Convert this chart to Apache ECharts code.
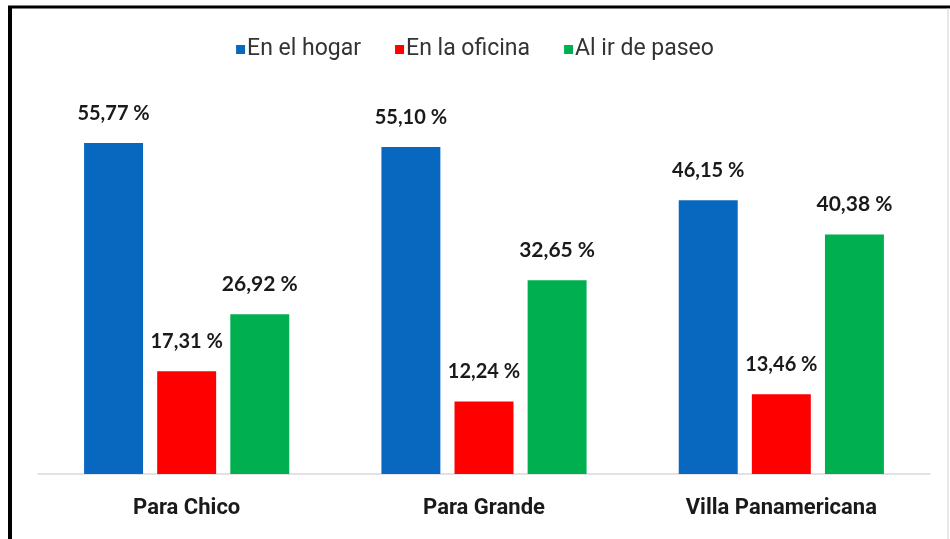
<!DOCTYPE html>
<html>
<head>
<meta charset="utf-8">
<script src="https://cdn.jsdelivr.net/npm/echarts@6/dist/echarts.min.js"></script>
<style>
  html, body { margin: 0; padding: 0; background: #fff; }
  #chart { width: 950px; height: 539px; }
</style>
</head>
<body>
<div id="chart"></div>
<script>
// lugares y porcentajes por ubicacion
var lugares = ['Para Chico', 'Para Grande', 'Villa Panamericana'];
var enElHogar = [55.77, 55.10, 46.15];
var enLaOficina = [17.31, 12.24, 13.46];
var alIrDePaseo = [26.92, 32.65, 40.38];

function fmt(p) {
    return p.value.toFixed(2).replace('.', ',') + ' %';
}

var myChart = echarts.init(document.getElementById('chart'));

var labelBase = {
    show: true,
    position: 'top',
    distance: 20,
    color: '#1a1a1a',
    fontFamily: 'Lato',
    fontWeight: 'bold',
    fontSize: 20,
    formatter: fmt
};

option = {
    animation: false,
    backgroundColor: '#fff',
    graphic: [
        { type: 'line', shape: { x1: 8, y1: 7, x2: 950, y2: 7 }, style: { stroke: '#000', lineWidth: 3 } },
        { type: 'line', shape: { x1: 10, y1: 6, x2: 10, y2: 539 }, style: { stroke: '#000', lineWidth: 4 } },
        { type: 'line', shape: { x1: 948, y1: 8, x2: 948, y2: 539 }, style: { stroke: '#d0d0d0', lineWidth: 1 } }
    ],
    legend: {
        top: 33,
        left: 'center',
        itemWidth: 9,
        itemHeight: 9,
        itemGap: 34,
        icon: 'rect',
        textStyle: {
            fontFamily: 'Roboto',
            fontSize: 23,
            color: '#333',
            padding: [0, 0, 0, -3]
        },
        data: ['En el hogar', 'En la oficina', 'Al ir de paseo']
    },
    grid: {
        left: 38,
        right: 20,
        top: 118,
        bottom: 65
    },
    xAxis: {
        type: 'category',
        data: lugares,
        axisLine: { lineStyle: { color: '#d9d9d9', width: 1.5 } },
        axisTick: { show: false },
        axisLabel: {
            margin: 23,
            fontFamily: 'Roboto',
            fontWeight: 'bold',
            fontSize: 22,
            color: '#1a1a1a'
        }
    },
    yAxis: {
        type: 'value',
        min: 0,
        max: 60,
        show: false
    },
    series: [
        {
            name: 'En el hogar',
            type: 'bar',
            barGap: '24%',
            barCategoryGap: '31%',
            itemStyle: { color: '#0868C0' },
            label: labelBase,
            data: enElHogar
        },
        {
            name: 'En la oficina',
            type: 'bar',
            barGap: '24%',
            barCategoryGap: '31%',
            itemStyle: { color: '#FF0000' },
            label: labelBase,
            data: enLaOficina
        },
        {
            name: 'Al ir de paseo',
            type: 'bar',
            barGap: '24%',
            barCategoryGap: '31%',
            itemStyle: { color: '#00B050' },
            label: Object.assign({}, labelBase, { fontSize: 21 }),
            data: alIrDePaseo
        }
    ]
};

myChart.setOption(option);
</script>
</body>
</html>
